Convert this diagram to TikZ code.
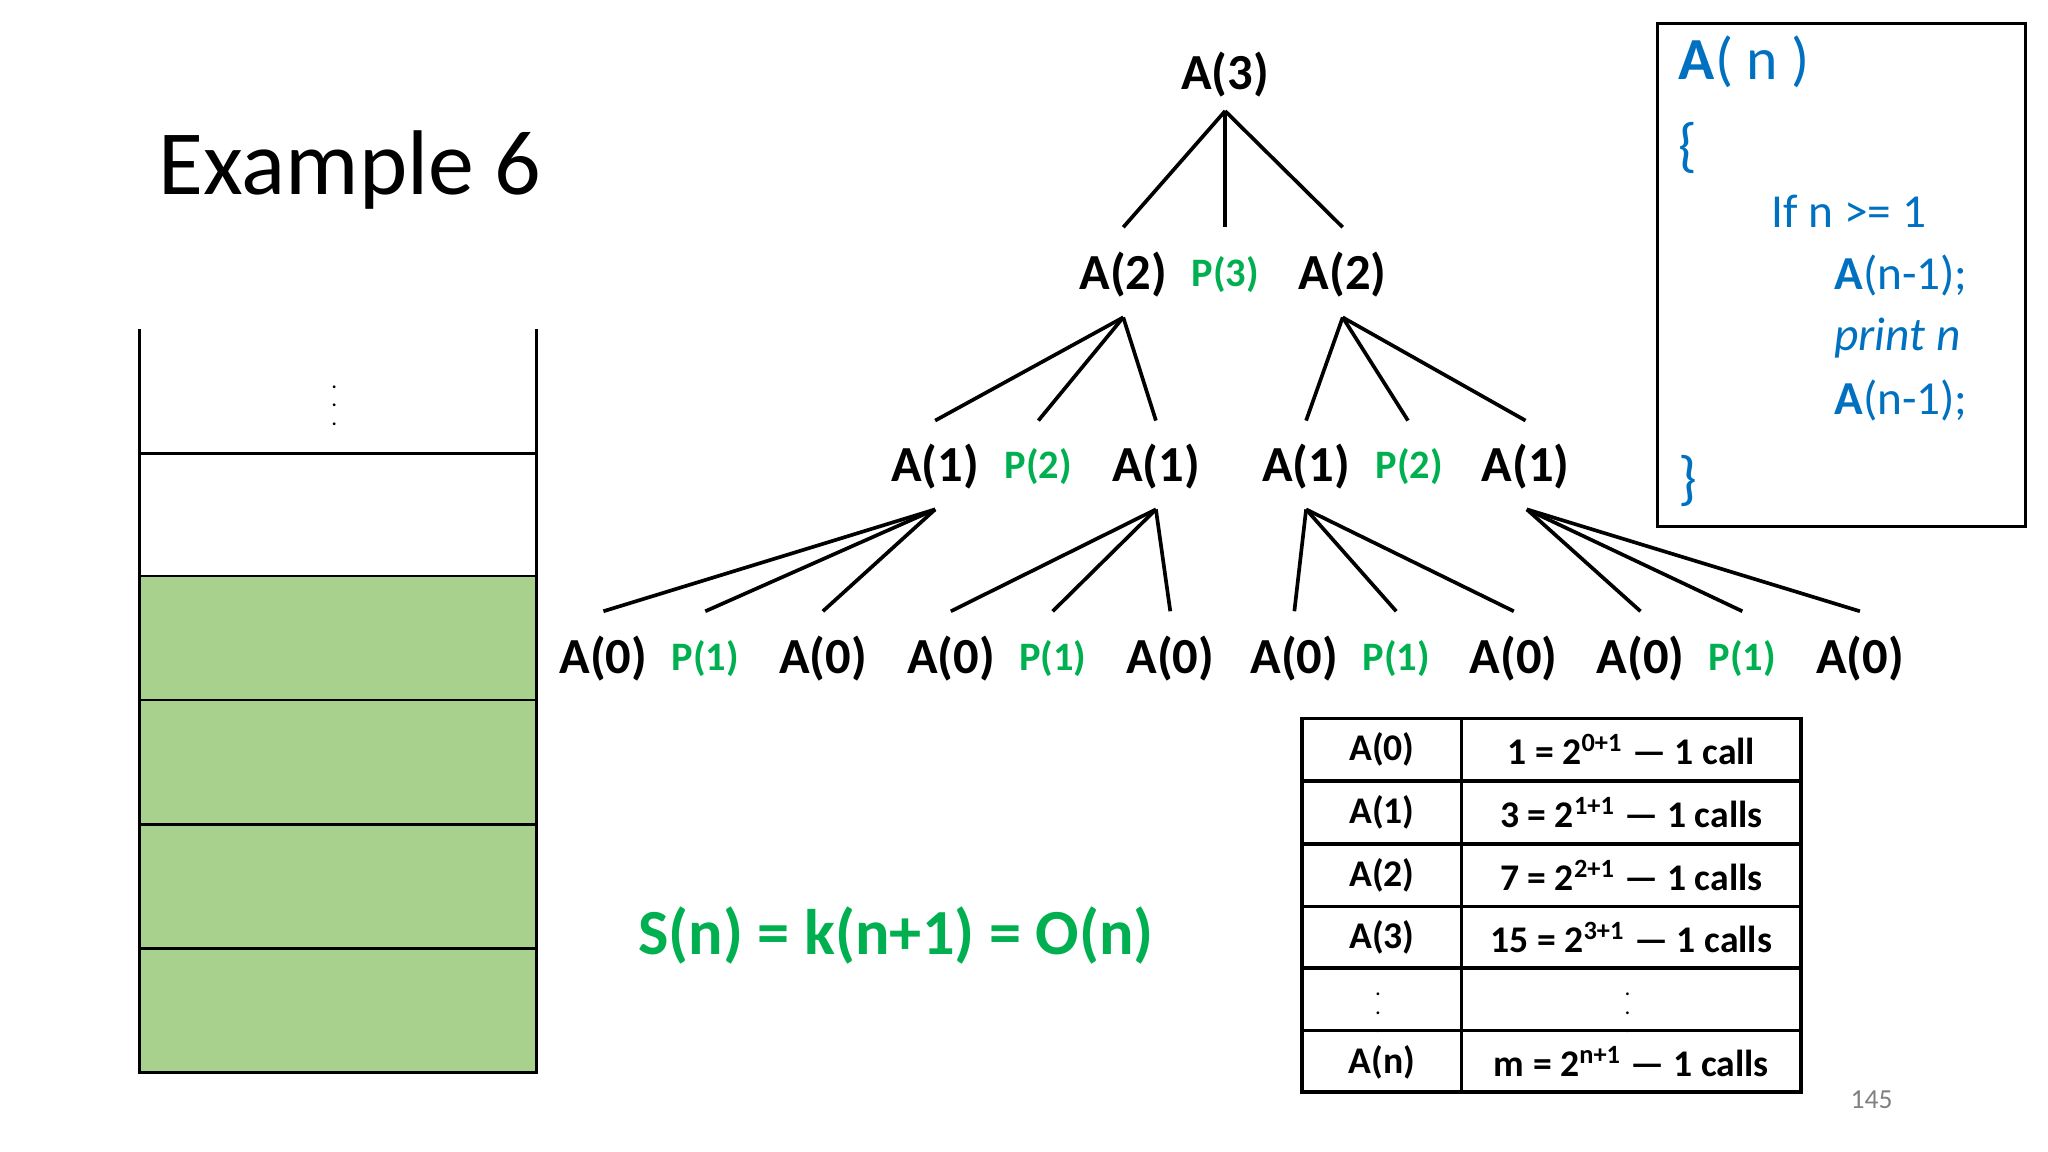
\documentclass[tikz,border=0pt]{standalone}
\usepackage{fontspec}
\setmainfont{Carlito}
\definecolor{tg}{RGB}{0,176,80}
\definecolor{sg}{RGB}{169,209,142}
\definecolor{cb}{RGB}{0,112,192}
\begin{document}
\begin{tikzpicture}[x=0.01cm,y=-0.01cm,
  an/.style={font=\fontsize{11}{13}\selectfont\bfseries},
  pn/.style={font=\fontsize{8.8}{10}\selectfont\bfseries,text=tg},
  tl/.style={line width=0.8pt},
  ct/.style={font=\fontsize{10.3}{12}\selectfont,text=cb,anchor=west},
  tt/.style={font=\fontsize{8.2}{10}\selectfont\bfseries},
  vd/.style={font=\fontsize{5}{6}\selectfont,inner sep=0pt}]
\useasboundingbox (0,0) rectangle (1568,882);
\node[font=\fontsize{20}{24}\selectfont] (title) at (268,130) {Example 6};
% stack
\fill[sg] (107,441) rectangle (411,821);
\draw[line width=0.6pt] (107,252) -- (107,821) -- (411,821) -- (411,252);
\foreach \y in {347,441,536,631,726} \draw[line width=0.6pt] (107,\y) -- (411,\y);
\node[vd] (dots) at (256,300) {$\vdots$};
% tree
\node[an] (r) at (938,57) {A(3)};
\coordinate (r0) at (938,85);
\node[an] (a) at (860,210) {A(2)};
\node[pn] (p3) at (938,210) {P(3)};
\node[an] (b) at (1028,210) {A(2)};
\foreach \x in {860,938,1028} \draw[tl] (r0) -- (\x,174);
\coordinate (a0) at (860,243); \coordinate (b0) at (1028,243);
\foreach \x in {716,795,885} \draw[tl] (a0) -- (\x,322);
\foreach \x in {1000,1078,1168} \draw[tl] (b0) -- (\x,322);
\foreach \x/\t/\s in {716/A(1)/an,795/P(2)/pn,885/A(1)/an,1000/A(1)/an,1079/P(2)/pn,1168/A(1)/an}
  \node[\s] (l2-\x) at (\x,357) {\t};
\foreach \p/\xs in {716/{462,540,630},885/{728,806,896},1000/{991,1069,1159},1169/{1256,1334,1424}}{
  \coordinate (c\p) at (\p,390);
  \foreach \x in \xs \draw[tl] (c\p) -- (\x,468);}
\foreach \x in {462,630,728,896,991,1159,1256,1424} \node[an] (l3-\x) at (\x,504) {A(0)};
\foreach \x in {540,806,1069,1334} \node[pn] (l3-\x) at (\x,504) {P(1)};
% code box
\draw[line width=0.6pt] (1269,18) rectangle (1551,403);
\node[ct,font=\fontsize{13}{15}\selectfont] (c1) at (1273,47) {\textbf{A}( n )};
\node[ct,font=\fontsize{13}{15}\selectfont] (c2) at (1273,113) {\{};
\node[ct] (c3) at (1344,162) {If n >= 1};
\node[ct] (c4) at (1392,211) {\textbf{A}(n-1);};
\node[ct] (c5) at (1392,259) {\itshape print n};
\node[ct] (c6) at (1392,307) {\textbf{A}(n-1);};
\node[ct,font=\fontsize{13}{15}\selectfont] (c7) at (1273,368) {\}};
% table
\draw[line width=0.8pt] (997,550) rectangle (1379,836);
\draw[line width=0.8pt] (1119,550) -- (1119,836);
\foreach \y in {598,646,694,741,789} \draw[line width=0.8pt] (997,\y) -- (1379,\y);
\foreach \y/\a/\b in {574/A(0)/{1 = 2\textsuperscript{0+1} — 1 call},
  622/A(1)/{3 = 2\textsuperscript{1+1} — 1 calls},
  670/A(2)/{7 = 2\textsuperscript{2+1} — 1 calls},
  718/A(3)/{15 = 2\textsuperscript{3+1} — 1 calls},
  813/A(n)/{m = 2\textsuperscript{n+1} — 1 calls}}{
  \node[tt] at (1058,\y) {\a};
  \node[tt] at (1249,\y) {\b};}
\node[vd] (td1) at (1055,765) {$\vdots$};
\node[vd] (td2) at (1246,765) {$\vdots$};
\node[font=\fontsize{14}{17}\selectfont\bfseries,text=tg] (f) at (686,716) {S(n) = k(n+1) = O(n)};
\node[font=\fontsize{6}{7}\selectfont,text=gray] (pg) at (1433,842) {145};
\end{tikzpicture}
\end{document}
